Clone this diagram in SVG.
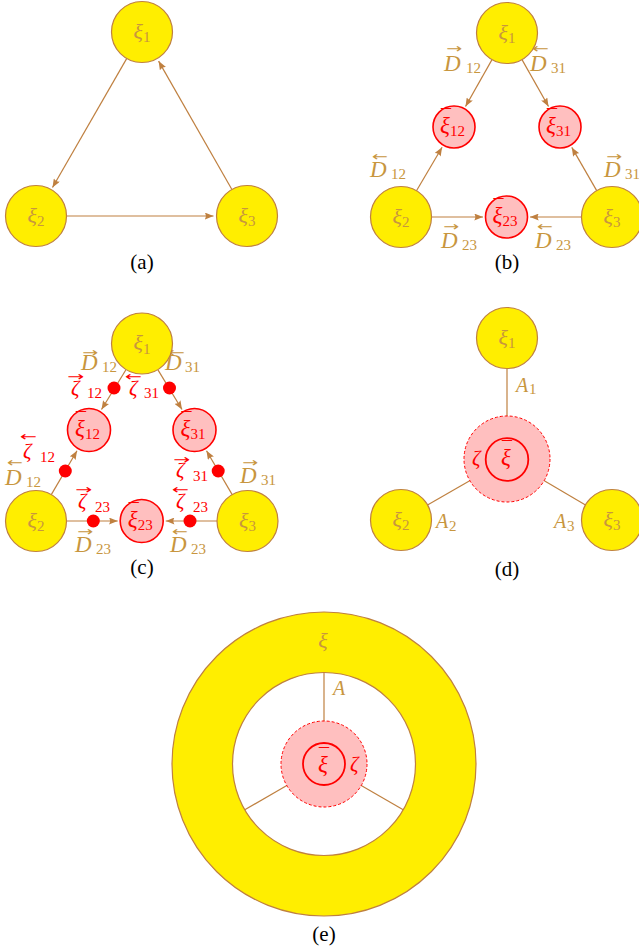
<svg xmlns="http://www.w3.org/2000/svg" width="639" height="952" viewBox="0 0 639 952">
<style>
.yn{fill:#FFEE00;stroke:#BF8040;stroke-width:1.2}
.rn{fill:#FFBFBF;stroke:#FF0000;stroke-width:1.6}
.rd{fill:#FFBFBF;stroke:#FF0000;stroke-width:1;stroke-dasharray:3 2}
.ro{fill:none;stroke:#FF0000;stroke-width:1.8}
.wh{fill:#FFFFFF;stroke:#BF8040;stroke-width:1.2}
.e{stroke:#BF8040;stroke-width:1.2;fill:none}
.ea{stroke:#BF8040;stroke-width:1.2;fill:none;marker-end:url(#ah)}
.dot{fill:#FF0000}
text{font-family:"Liberation Serif","Times New Roman",serif}
.bt{fill:#C8963E}
.rt{fill:#FF0000}
.nl{font-size:22px}
.rl{font-size:23px}
.it{font-style:italic}
.s{font-size:15px;font-style:normal}
.s2{font-size:15px;font-style:normal}
.ar{font-family:"DejaVu Sans",sans-serif;font-size:13px;font-style:normal}
.mc{font-size:20px;font-style:normal}
.D{font-size:23px;font-style:italic}
.A{font-size:20px;font-style:italic}
.z{font-size:21px;font-style:italic}
.cap{font-size:21px;fill:#000000}
</style>
<defs>
<marker id="ah" viewBox="0 0 10 8" refX="10" refY="4" markerWidth="9" markerHeight="7" markerUnits="userSpaceOnUse" orient="auto">
<path d="M0,0 L10,4 L0,8 Q2.5,4 0,0Z" fill="#BF8040"/>
</marker>
</defs>

<g id="connectors">
<!-- (a) -->
<line class="ea" x1="126.8" y1="58.4" x2="52.5" y2="187.5"/>
<line class="ea" x1="231.9" y1="189.5" x2="158.6" y2="61.1"/>
<line class="ea" x1="66.5" y1="216" x2="213.5" y2="216"/>
<!-- (b) -->
<line class="ea" x1="492" y1="59.6" x2="465.5" y2="106.5"/>
<line class="ea" x1="522" y1="59.6" x2="548.5" y2="106.5"/>
<line class="ea" x1="416.5" y1="190.7" x2="442.1" y2="147.3"/>
<line class="ea" x1="596.7" y1="190.6" x2="571.8" y2="147.4"/>
<line class="ea" x1="431.5" y1="217" x2="483" y2="217"/>
<line class="ea" x1="581.5" y1="217" x2="530" y2="217"/>
<!-- (c) -->
<line class="ea" x1="126.1" y1="369.5" x2="101.5" y2="409.5"/>
<line class="ea" x1="157.8" y1="369.6" x2="182" y2="409.5"/>
<line class="ea" x1="51.3" y1="494.6" x2="77" y2="450.8"/>
<line class="ea" x1="232.2" y1="494.6" x2="206.5" y2="450.8"/>
<line class="ea" x1="66.5" y1="521" x2="117.7" y2="521"/>
<line class="ea" x1="217" y1="521" x2="165.7" y2="521"/>
<!-- (d) -->
<line class="e" x1="507" y1="368.5" x2="507" y2="416.5"/>
<line class="e" x1="427.5" y1="504.9" x2="469.7" y2="480.8"/>
<line class="e" x1="585.5" y1="504.9" x2="544.3" y2="480.8"/>
</g>

<g id="dots">
<circle class="dot" cx="114" cy="388" r="6.5"/>
<circle class="dot" cx="169.5" cy="388" r="6.5"/>
<circle class="dot" cx="65.3" cy="471" r="6.5"/>
<circle class="dot" cx="218.2" cy="471" r="6.5"/>
<circle class="dot" cx="93.3" cy="521" r="6.5"/>
<circle class="dot" cx="190" cy="521" r="6.5"/>
</g>

<g id="edge-labels">
<!-- (b) -->
<text class="bt ar" x="446" y="53" textLength="16" lengthAdjust="spacingAndGlyphs">→</text>
<text class="bt"><tspan class="D" x="444" y="70.5">D</tspan><tspan class="s2" x="466" y="72.5">12</tspan></text>
<text class="bt ar" x="532" y="53" textLength="17" lengthAdjust="spacingAndGlyphs">←</text>
<text class="bt"><tspan class="D" x="530" y="70.5">D</tspan><tspan class="s2" x="551" y="72.5">31</tspan></text>
<text class="bt ar" x="372" y="160.5" textLength="16" lengthAdjust="spacingAndGlyphs">←</text>
<text class="bt"><tspan class="D" x="370" y="176.5">D</tspan><tspan class="s2" x="391" y="178.5">12</tspan></text>
<text class="bt ar" x="606" y="160.5" textLength="16" lengthAdjust="spacingAndGlyphs">→</text>
<text class="bt"><tspan class="D" x="604" y="176.5">D</tspan><tspan class="s2" x="625" y="178.5">31</tspan></text>
<text class="bt ar" x="443" y="230.5" textLength="16" lengthAdjust="spacingAndGlyphs">→</text>
<text class="bt"><tspan class="D" x="441" y="248">D</tspan><tspan class="s2" x="462" y="250">23</tspan></text>
<text class="bt ar" x="537" y="230.5" textLength="16" lengthAdjust="spacingAndGlyphs">←</text>
<text class="bt"><tspan class="D" x="535" y="248">D</tspan><tspan class="s2" x="556" y="250">23</tspan></text>
<!-- (c) -->
<text class="bt ar" x="82" y="357" textLength="16" lengthAdjust="spacingAndGlyphs">→</text>
<text class="bt"><tspan class="D" x="81" y="370">D</tspan><tspan class="s2" x="102" y="372">12</tspan></text>
<text class="bt ar" x="168" y="357" textLength="17" lengthAdjust="spacingAndGlyphs">←</text>
<text class="bt"><tspan class="D" x="165" y="370">D</tspan><tspan class="s2" x="185" y="372">31</tspan></text>
<text class="rt ar" x="67" y="380.5" textLength="17" lengthAdjust="spacingAndGlyphs">→</text>
<text class="rt"><tspan class="z" x="71" y="394.5">ζ</tspan><tspan class="s2" x="87" y="398">12</tspan></text>
<text class="rt ar" x="125" y="380.5" textLength="17" lengthAdjust="spacingAndGlyphs">←</text>
<text class="rt"><tspan class="z" x="129" y="394.5">ζ</tspan><tspan class="s2" x="144" y="398">31</tspan></text>
<text class="rt ar" x="20" y="440.5" textLength="17" lengthAdjust="spacingAndGlyphs">←</text>
<text class="rt"><tspan class="z" x="23" y="458">ζ</tspan><tspan class="s2" x="40" y="461.5">12</tspan></text>
<text class="bt ar" x="7" y="466.5" textLength="16" lengthAdjust="spacingAndGlyphs">←</text>
<text class="bt"><tspan class="D" x="5" y="485">D</tspan><tspan class="s2" x="26" y="487">12</tspan></text>
<text class="rt ar" x="173" y="464" textLength="17" lengthAdjust="spacingAndGlyphs">→</text>
<text class="rt"><tspan class="z" x="176" y="477">ζ</tspan><tspan class="s2" x="193" y="480.5">31</tspan></text>
<text class="bt ar" x="242" y="467" textLength="16" lengthAdjust="spacingAndGlyphs">→</text>
<text class="bt"><tspan class="D" x="240" y="483.3">D</tspan><tspan class="s2" x="261" y="485.3">31</tspan></text>
<text class="rt ar" x="172" y="494" textLength="17" lengthAdjust="spacingAndGlyphs">←</text>
<text class="rt"><tspan class="z" x="176" y="508">ζ</tspan><tspan class="s2" x="193" y="511.5">23</tspan></text>
<text class="rt ar" x="75" y="494" textLength="17" lengthAdjust="spacingAndGlyphs">→</text>
<text class="rt"><tspan class="z" x="78" y="508">ζ</tspan><tspan class="s2" x="95" y="511.5">23</tspan></text>
<text class="bt ar" x="77" y="535.5" textLength="16" lengthAdjust="spacingAndGlyphs">→</text>
<text class="bt"><tspan class="D" x="75" y="551.7">D</tspan><tspan class="s2" x="96" y="553.7">23</tspan></text>
<text class="bt ar" x="172" y="535.5" textLength="16" lengthAdjust="spacingAndGlyphs">←</text>
<text class="bt"><tspan class="D" x="170" y="551.7">D</tspan><tspan class="s2" x="191" y="553.7">23</tspan></text>
<!-- (d) -->
<text class="bt"><tspan class="A" x="516" y="391.5">A</tspan><tspan class="s2" x="529" y="394">1</tspan></text>
<text class="bt"><tspan class="A" x="436" y="528">A</tspan><tspan class="s2" x="449" y="530.5">2</tspan></text>
<text class="bt"><tspan class="A" x="554" y="528">A</tspan><tspan class="s2" x="567" y="530.5">3</tspan></text>
</g>

<!-- panel (a) nodes -->
<g id="a-xi1"><circle class="yn" cx="142" cy="32" r="30.5"/><text class="bt nl" x="142" y="38.5" text-anchor="middle"><tspan class="it">ξ</tspan><tspan class="s" dy="3.5">1</tspan></text></g>
<g id="a-xi2"><circle class="yn" cx="36" cy="216" r="30.5"/><text class="bt nl" x="36" y="222.5" text-anchor="middle"><tspan class="it">ξ</tspan><tspan class="s" dy="3.5">2</tspan></text></g>
<g id="a-xi3"><circle class="yn" cx="247" cy="216" r="30.5"/><text class="bt nl" x="247" y="222.5" text-anchor="middle"><tspan class="it">ξ</tspan><tspan class="s" dy="3.5">3</tspan></text></g>

<!-- panel (b) nodes -->
<g id="b-xi1"><circle class="yn" cx="507" cy="33" r="30.5"/><text class="bt nl" x="507" y="39.5" text-anchor="middle"><tspan class="it">ξ</tspan><tspan class="s" dy="3.5">1</tspan></text></g>
<g id="b-xi2"><circle class="yn" cx="401" cy="217" r="30.5"/><text class="bt nl" x="401" y="223.5" text-anchor="middle"><tspan class="it">ξ</tspan><tspan class="s" dy="3.5">2</tspan></text></g>
<g id="b-xi3"><circle class="yn" cx="612" cy="217" r="30.5"/><text class="bt nl" x="612" y="223.5" text-anchor="middle"><tspan class="it">ξ</tspan><tspan class="s" dy="3.5">3</tspan></text></g>
<g id="b-xibar12"><circle class="rn" cx="454" cy="127" r="21"/><text class="rt rl" x="452.5" y="133" text-anchor="middle"><tspan class="it">ξ</tspan><tspan class="s2" dy="2.5">12</tspan></text><text class="rt mc" x="446" y="124" text-anchor="middle">¯</text></g>
<g id="b-xibar31"><circle class="rn" cx="560" cy="127" r="21"/><text class="rt rl" x="558.5" y="133" text-anchor="middle"><tspan class="it">ξ</tspan><tspan class="s2" dy="2.5">31</tspan></text><text class="rt mc" x="552" y="124" text-anchor="middle">¯</text></g>
<g id="b-xibar23"><circle class="rn" cx="506.5" cy="217" r="21"/><text class="rt rl" x="505" y="223" text-anchor="middle"><tspan class="it">ξ</tspan><tspan class="s2" dy="2.5">23</tspan></text><text class="rt mc" x="498.5" y="214" text-anchor="middle">¯</text></g>

<!-- panel (c) nodes -->
<g id="c-xi1"><circle class="yn" cx="142" cy="343.5" r="30.5"/><text class="bt nl" x="142" y="350" text-anchor="middle"><tspan class="it">ξ</tspan><tspan class="s" dy="3.5">1</tspan></text></g>
<g id="c-xi2"><circle class="yn" cx="36" cy="521" r="30.5"/><text class="bt nl" x="36" y="527.5" text-anchor="middle"><tspan class="it">ξ</tspan><tspan class="s" dy="3.5">2</tspan></text></g>
<g id="c-xi3"><circle class="yn" cx="247.5" cy="521" r="30.5"/><text class="bt nl" x="247.5" y="527.5" text-anchor="middle"><tspan class="it">ξ</tspan><tspan class="s" dy="3.5">3</tspan></text></g>
<g id="c-xibar12"><circle class="rn" cx="89" cy="430" r="21.5"/><text class="rt rl" x="87.5" y="436" text-anchor="middle"><tspan class="it">ξ</tspan><tspan class="s2" dy="2.5">12</tspan></text><text class="rt mc" x="81" y="427" text-anchor="middle">¯</text></g>
<g id="c-xibar31"><circle class="rn" cx="194.5" cy="430" r="21.5"/><text class="rt rl" x="193" y="436" text-anchor="middle"><tspan class="it">ξ</tspan><tspan class="s2" dy="2.5">31</tspan></text><text class="rt mc" x="186.5" y="427" text-anchor="middle">¯</text></g>
<g id="c-xibar23"><circle class="rn" cx="141.7" cy="521" r="21.5"/><text class="rt rl" x="140.2" y="527" text-anchor="middle"><tspan class="it">ξ</tspan><tspan class="s2" dy="2.5">23</tspan></text><text class="rt mc" x="133.7" y="518" text-anchor="middle">¯</text></g>

<!-- panel (d) nodes -->
<g id="d-xi1"><circle class="yn" cx="507" cy="338" r="30.5"/><text class="bt nl" x="507" y="344.5" text-anchor="middle"><tspan class="it">ξ</tspan><tspan class="s" dy="3.5">1</tspan></text></g>
<g id="d-xi2"><circle class="yn" cx="401" cy="520" r="30.5"/><text class="bt nl" x="401" y="526.5" text-anchor="middle"><tspan class="it">ξ</tspan><tspan class="s" dy="3.5">2</tspan></text></g>
<g id="d-xi3"><circle class="yn" cx="612" cy="520" r="30.5"/><text class="bt nl" x="612" y="526.5" text-anchor="middle"><tspan class="it">ξ</tspan><tspan class="s" dy="3.5">3</tspan></text></g>
<g id="d-center">
<circle class="rd" cx="507" cy="459" r="43"/>
<circle class="ro" cx="507" cy="459.5" r="21.3"/>
<text class="rt rl it" x="506" y="465" text-anchor="middle">ξ</text>
<text class="rt mc" x="507" y="456" text-anchor="middle">¯</text>
<text class="rt z" x="472" y="465">ζ</text>
</g>

<!-- panel (e) -->
<g id="e-ring">
<circle class="yn" cx="324" cy="764" r="152"/>
<circle class="wh" cx="324" cy="764" r="91.5"/>
<text class="bt nl it" x="323" y="648" text-anchor="middle">ξ</text>
</g>
<g id="e-connectors">
<line class="e" x1="324" y1="672.5" x2="324" y2="721"/>
<line class="e" x1="286.8" y1="785.5" x2="244.8" y2="809.75"/>
<line class="e" x1="361.2" y1="785.5" x2="403.2" y2="809.75"/>
<text class="bt A" x="333" y="695">A</text>
</g>
<g id="e-center">
<circle class="rd" cx="324" cy="764" r="43"/>
<circle class="ro" cx="324" cy="764" r="21"/>
<text class="rt rl it" x="323" y="771.5" text-anchor="middle">ξ</text>
<text class="rt mc" x="324" y="762.5" text-anchor="middle">¯</text>
<text class="rt z" x="350" y="771">ζ</text>
</g>

<g id="captions">
<text class="cap" x="142" y="269" text-anchor="middle">(a)</text>
<text class="cap" x="507" y="269" text-anchor="middle">(b)</text>
<text class="cap" x="142" y="574" text-anchor="middle">(c)</text>
<text class="cap" x="507" y="576" text-anchor="middle">(d)</text>
<text class="cap" x="324" y="941" text-anchor="middle">(e)</text>
</g>
</svg>
